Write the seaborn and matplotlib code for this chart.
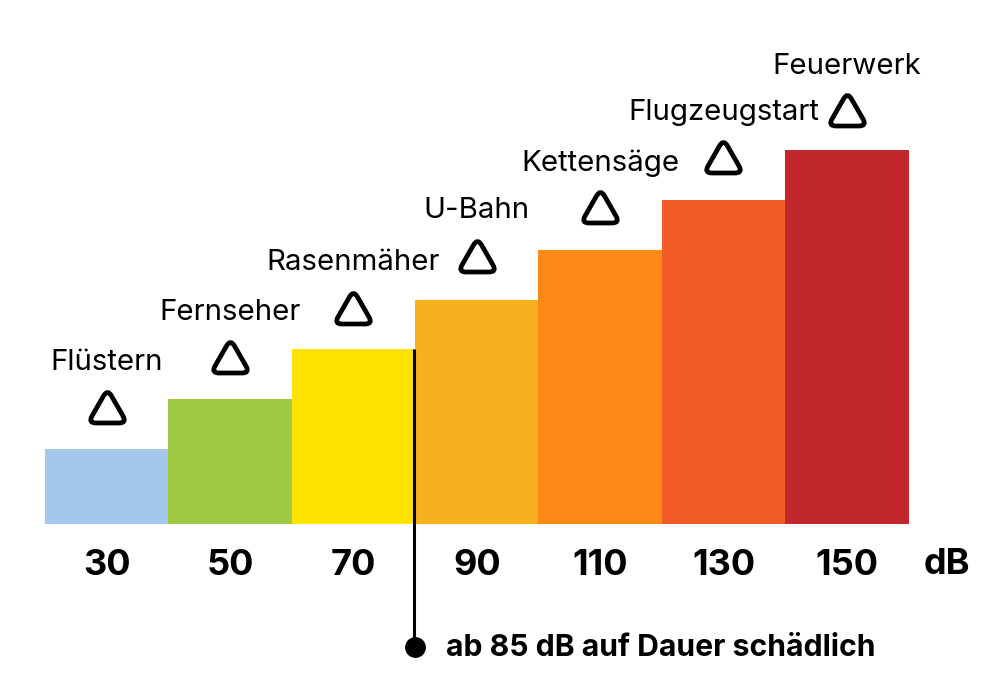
import matplotlib
matplotlib.use("Agg")
import matplotlib.pyplot as plt
from matplotlib.markers import MarkerStyle
from matplotlib.path import Path
import numpy as np
import seaborn as sns
import pandas as pd

sources = ["Flüstern", "Fernseher", "Rasenmäher", "U-Bahn", "Kettensäge", "Flugzeugstart", "Feuerwerk"]
levels = [30, 50, 70, 90, 110, 130, 150]
colors = ["#A4C8EC", "#A0CA44", "#FFE300", "#F7B01F", "#FE8917", "#F25C26", "#C1272D"]
note = "ab 85 dB auf Dauer schädlich"
unit = "dB"

sns.set_theme(style="white")
plt.rcParams["font.family"] = ["Inter", "DejaVu Sans"]

W, H = 1000, 700
L, R, BASE = 45, 908.5, 524
PLOT_H = 374
PX_PER_DB = PLOT_H / 150
fig = plt.figure(figsize=(W / 100, H / 100), dpi=100)
ax = fig.add_axes([L / W, (H - BASE) / H, (R - L) / W, PLOT_H / H])

df = pd.DataFrame({"level": [str(v) for v in levels], "value": levels})
sns.barplot(data=df, x="level", y="value", hue="level", palette=colors, width=1,
            saturation=1, dodge=False, legend=False, ax=ax, linewidth=0)
ax.set_xlim(-0.5, len(levels) - 0.5)
ax.set_ylim(0, 150)
ax.set_xlabel("")
ax.set_ylabel("")
ax.set_yticks([])
ax.tick_params(axis="x", length=0, pad=18, labelsize=26)
for t in ax.get_xticklabels():
    t.set_fontweight("bold")
    t.set_color("black")
sns.despine(ax=ax, left=True, bottom=True, top=True, right=True)


def px(x):
    return (x - L) / ((R - L) / len(levels)) - 0.5


def py(y):
    return (BASE - y) / PX_PER_DB


def rounded_triangle(half=19.5, low=-14.5, high=19.5, cut=8.0):
    corners = np.array([[-half, low], [half, low], [0, high]])
    verts, codes = [], []
    for k in range(3):
        prev_c, c, next_c = corners[k - 1], corners[k], corners[(k + 1) % 3]
        a = c + (prev_c - c) / np.linalg.norm(prev_c - c) * cut
        b = c + (next_c - c) / np.linalg.norm(next_c - c) * cut
        verts += [a, c, b]
        codes += [Path.LINETO if k else Path.MOVETO, Path.CURVE3, Path.CURVE3]
    verts.append(verts[0])
    codes.append(Path.CLOSEPOLY)
    return Path(verts, codes)


tri_y = [408, 358, 309, 257, 208, 158, 111]
lab_y = [363, 313, 263, 211, 163, 113, 67]
marker = MarkerStyle(rounded_triangle())
for i, name in enumerate(sources):
    ax.plot([i], [py(tri_y[i])], marker=marker, ms=2 * 19.5 * 0.72, mfc="none", mec="black", mew=3.4,
            clip_on=False, ls="none", zorder=5)
    if name == "Flugzeugstart":
        ax.text(px(819), py(lab_y[i]), name, ha="right", va="center", fontsize=21.2,
                color="black", clip_on=False)
    else:
        ax.text(i, py(lab_y[i]), name, ha="center", va="center", fontsize=21.2,
                color="black", clip_on=False)

ax.text(px(970), py(564), unit, ha="right", va="center", fontsize=26, fontweight="bold",
        color="black", clip_on=False)
ax.plot([px(414), px(414)], [levels[2], py(647)], color="black", lw=2.2, clip_on=False,
        zorder=6, solid_capstyle="butt")
ax.plot([px(414.5)], [py(647)], marker="o", ms=14, color="black", clip_on=False, zorder=6)
ax.text(px(446), py(648), note, ha="left", va="center", fontsize=21.7, fontweight="bold",
        color="black", clip_on=False)

fig.savefig("out.png", dpi=100, facecolor="white")
